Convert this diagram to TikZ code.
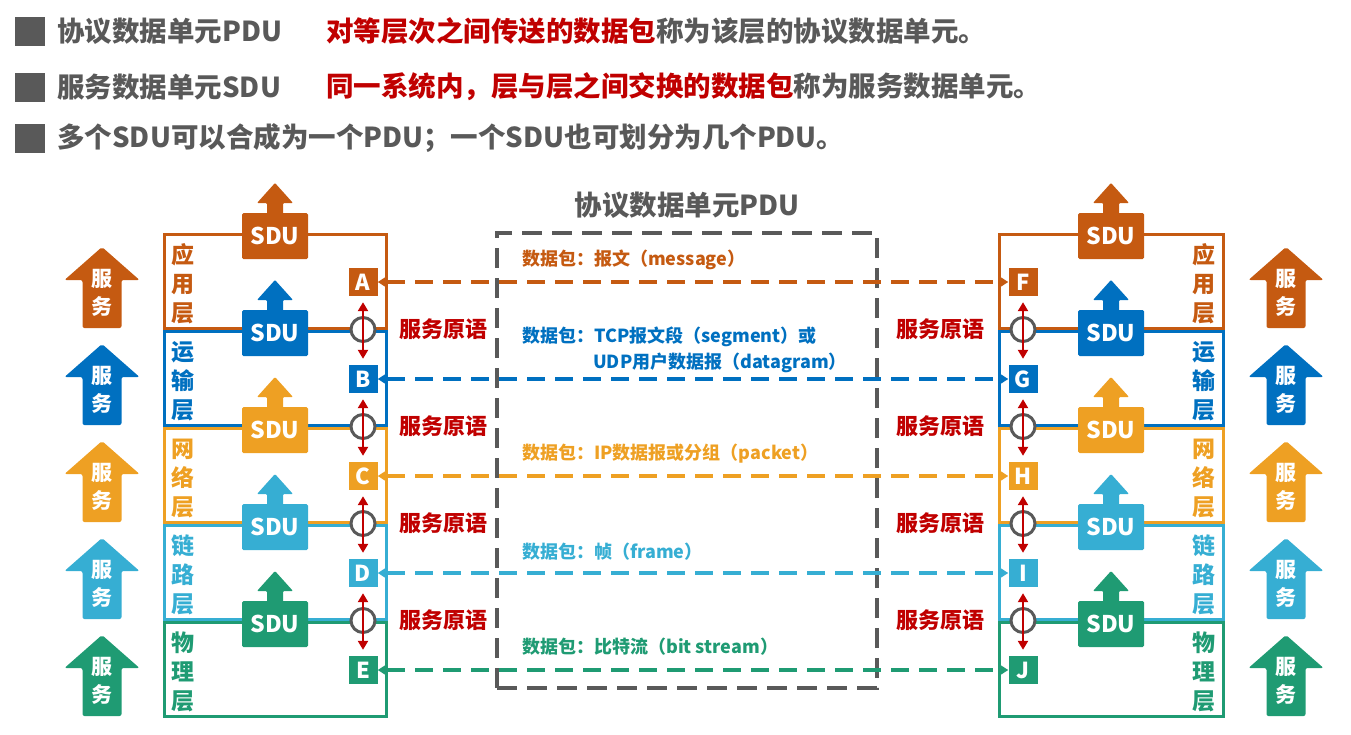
\documentclass[tikz,border=0pt]{standalone}
\usepackage{fontspec}
\setmainfont{Noto Sans CJK SC}
\usetikzlibrary{positioning,arrows.meta}

\definecolor{appcol}{HTML}{C55A11}
\definecolor{tracol}{HTML}{0070C0}
\definecolor{netcol}{HTML}{EEA023}
\definecolor{lnkcol}{HTML}{36AED3}
\definecolor{phycol}{HTML}{1F9B73}
\definecolor{redcol}{HTML}{C00000}
\definecolor{graycol}{HTML}{595959}
\newcommand\fsz[1]{\fontsize{#1}{#1}\selectfont}

\begin{document}
\begin{tikzpicture}[x=1pt, y=-1pt, font=\bfseries,
  head/.style={anchor=west, inner sep=0pt, text=graycol, font=\bfseries\fsz{27.5}},
  bullet/.style={fill=graycol, minimum width=30pt, minimum height=29pt, inner sep=0pt},
  layer/.style={line width=3pt},
  tag/.style={align=center, inner sep=0pt, font=\bfseries\fontsize{23}{29}\selectfont},
  letter/.style={minimum width=29pt, minimum height=28pt, inner sep=0pt, text=white, font=\bfseries\fsz{22}},
  ring/.style={circle, draw=graycol, fill=white, line width=3pt, minimum size=24pt, inner sep=0pt},
  prim/.style={draw=redcol, line width=2.8pt, {Triangle[length=9pt,width=10pt]}-{Triangle[length=9pt,width=10pt]},
    shorten <=6pt, shorten >=6pt},
  primtxt/.style={text=redcol, inner sep=0pt, font=\bfseries\fsz{22}},
  pdubox/.style={draw=graycol, line width=4pt, dash pattern=on 20pt off 10pt,
    minimum width=380pt, minimum height=455pt, inner sep=0pt},
  pdu/.style={line width=3.5pt, dash pattern=on 18pt off 10pt,
    {Triangle[length=10pt,width=12pt]}-{Triangle[length=10pt,width=12pt]}},
  pdutxt/.style={anchor=west, inner sep=0pt, font=\bfseries\fsz{18}},
  sdu/.pic={
    \fill[rounded corners=1.5pt] (-33,-23) rectangle (33,23);
    \fill[rounded corners=1pt] (0,-53) -- (18,-33) -- (8,-33) -- (8,-22)
      -- (-8,-22) -- (-8,-33) -- (-18,-33) -- cycle;
    \node[text=white, inner sep=0pt, font=\bfseries\fsz{23}] (-txt) at (0,0) {SDU};
  },
  svc/.pic={
    \fill[rounded corners=2pt] (0,0) -- (37.5,33) -- (19.5,33) -- (19.5,81)
      -- (-19.5,81) -- (-19.5,33) -- (-37.5,33) -- cycle;
    \node[text=white, inner sep=0pt, font=\bfseries\fsz{21}] (-a) at (0,32) {服};
    \node[text=white, inner sep=0pt, font=\bfseries\fsz{21}] (-b) at (0,59) {务};
  }]
\useasboundingbox (0,0) rectangle (1351,734);

% header lines
\node[bullet] (m1) at (30,31.5) {};
\node[head, right=12pt of m1] (h1) {协议数据单元PDU};
\node[head, text=redcol] (d1) at (326,31.5) {对等层次之间传送的数据包\textcolor{graycol}{称为该层的协议数据单元。}};
\node[bullet] (m2) at (30,87) {};
\node[head, right=12pt of m2] (h2) {服务数据单元SDU};
\node[head, text=redcol] (d2) at (326,87) {同一系统内，层与层之间交换的数据包\textcolor{graycol}{称为服务数据单元。}};
\node[bullet] (m3) at (30,138) {};
\node[head, right=12pt of m3] (h3) {多个SDU可以合成为一个PDU；一个SDU也可划分为几个PDU。};

% layer frames
\foreach \i/\col in {0/appcol,1/tracol,2/netcol,3/lnkcol,4/phycol}{
  \draw[layer, draw=\col] (164,234+97*\i) rectangle (386,328+97*\i);
  \draw[layer, draw=\col] (999,234+97*\i) rectangle (1223,328+97*\i);
}

% SDUs, services, layer names, entities
\foreach \i/\col/\tg/\la/\lb in {0/appcol/应\\用\\层/A/F, 1/tracol/运\\输\\层/B/G,
    2/netcol/网\\络\\层/C/H, 3/lnkcol/链\\路\\层/D/I, 4/phycol/物\\理\\层/E/J}{
  \pic[color=\col] (sduL\i) at (275,236+97*\i) {sdu};
  \pic[color=\col] (sduR\i) at (1111,236+97*\i) {sdu};
  \pic[color=\col] (svcL\i) at (102,247+97*\i) {svc};
  \pic[color=\col] (svcR\i) at (1286,247+97*\i) {svc};
  \node[tag, text=\col] (tagL\i) at (183,284+97*\i) {\tg};
  \node[tag, text=\col] (tagR\i) at (1204,284+97*\i) {\tg};
  \node[letter, fill=\col] (\la) at (363,282+97*\i) {\la};
  \node[letter, fill=\col] (\lb) at (1023,282+97*\i) {\lb};
}

% service primitives
\foreach \u/\d/\v/\w [count=\k] in {A/B/F/G, B/C/G/H, C/D/H/I, D/E/I/J}{
  \node[ring] (ringL\k) at (363,232.5+97*\k) {};
  \node[ring] (ringR\k) at (1023,232.5+97*\k) {};
  \draw[prim] (\u) -- (\d);
  \draw[prim] (\v) -- (\w);
  \node[primtxt] (primL\k) at (443,232.5+97*\k) {服务原语};
  \node[primtxt] (primR\k) at (940,232.5+97*\k) {服务原语};
}

% peer-to-peer PDUs
\node[pdubox] (pdu) at (687,460.5) {};
\node[head, anchor=south, above=12pt of pdu] (pdutitle) {协议数据单元PDU};
\foreach \u/\v/\col in {A/F/appcol, B/G/tracol, C/H/netcol, D/I/lnkcol, E/J/phycol}
  \draw[pdu, draw=\col] (\u) -- (\v);

\node[pdutxt, text=appcol] (msg) at (522,260) {数据包：报文（message）};
\node[pdutxt, text=tracol] (seg) at (522,337) {数据包：TCP报文段（segment）或};
\node[pdutxt, text=tracol] (dgm) at (593,363) {UDP用户数据报（datagram）};
\node[pdutxt, text=netcol] (pkt) at (522,454) {数据包：IP数据报或分组（packet）};
\node[pdutxt, text=lnkcol] (frm) at (522,552) {数据包：帧（frame）};
\node[pdutxt, text=phycol] (bits) at (522,647) {数据包：比特流（bit stream）};
\end{tikzpicture}
\end{document}
